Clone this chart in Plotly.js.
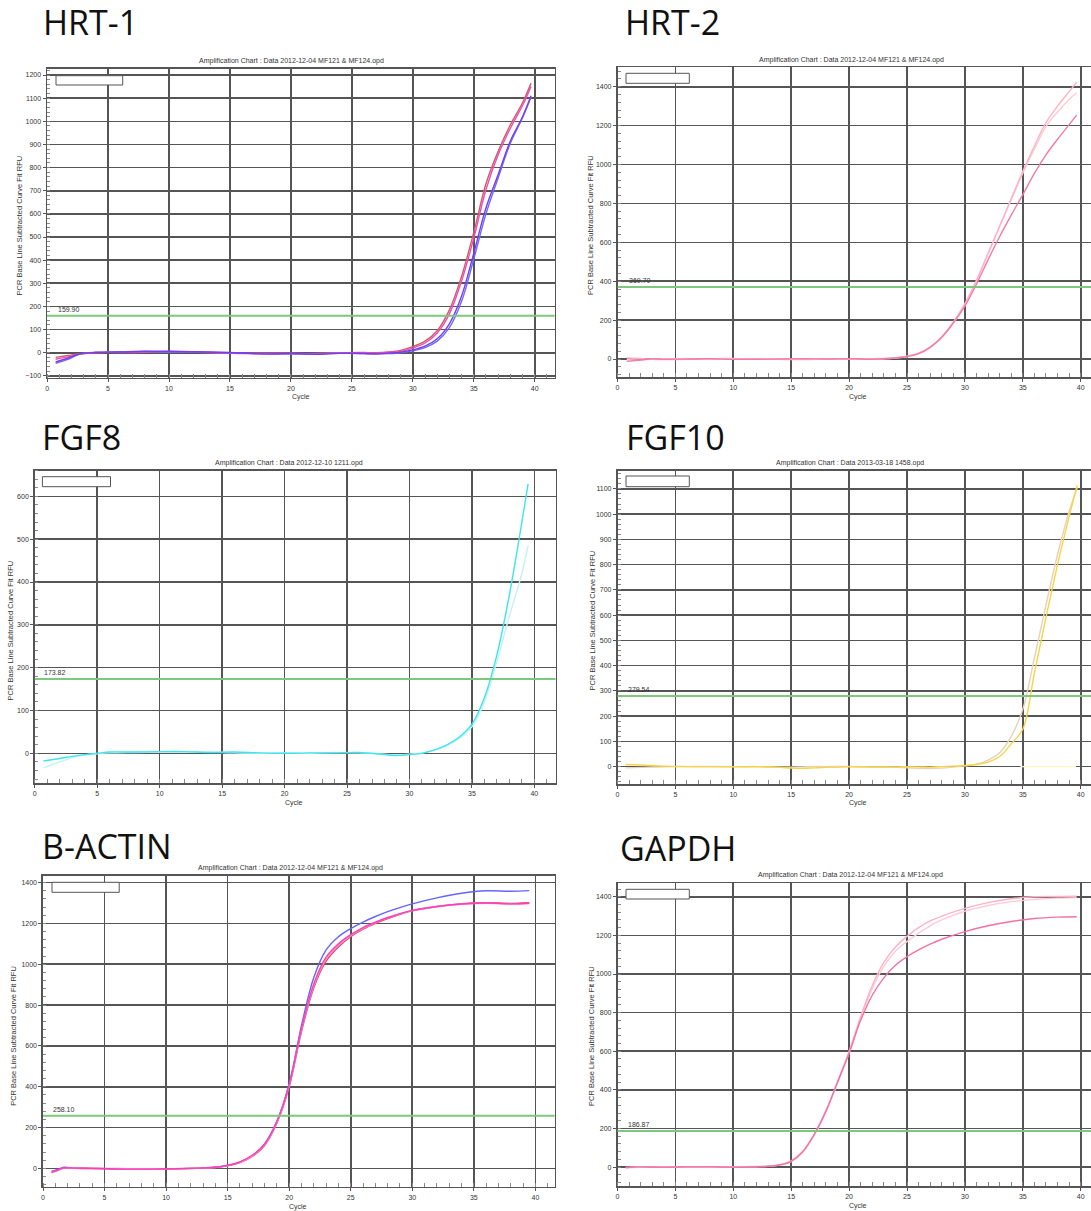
<!DOCTYPE html>
<html>
<head>
<meta charset="utf-8">
<script src="https://cdn.plot.ly/plotly-3.0.1.min.js"></script>
<style>
html,body{margin:0;padding:0;background:#fff;overflow:hidden;}
#chart{width:1110px;height:1211px;}
</style>
</head>
<body>
<div id="chart"></div>
<script>
// ---------------- DATA ----------------
const panelLabels = ["HRT-1", "HRT-2", "FGF8", "FGF10", "B-ACTIN", "GAPDH"];
const chartTitles = [
  "Amplification Chart : Data 2012-12-04 MF121 & MF124.opd",
  "Amplification Chart : Data 2012-12-04 MF121 & MF124.opd",
  "Amplification Chart : Data 2012-12-10 1211.opd",
  "Amplification Chart : Data 2013-03-18 1458.opd",
  "Amplification Chart : Data 2012-12-04 MF121 & MF124.opd",
  "Amplification Chart : Data 2012-12-04 MF121 & MF124.opd"
];
const thresholds = [159.90, 369.70, 173.82, 279.54, 258.10, 186.87];
const yTitle = "PCR Base Line Subtracted Curve Fit RFU";
const xTitle = "Cycle";
const cycleTicks = [0, 5, 10, 15, 20, 25, 30, 35, 40];

// HRT-1
const hrt1Cycles = [0.7,1.7,2.7,4,6,8,10,12,14,16,18,20,22,24,26,27,28,29,30,31,32,33,34,35,36,37,38,39,39.7];
const hrt1Red    = [-20,-12,-4,0,2,3,4,2,-1,-3,-2,-4,-3,0,1,0,3,10,26,50,95,185,330,520,730,870,985,1080,1165];
const hrt1Magenta= [-28,-18,-6,1,1,2,5,3,0,-4,-3,-2,-5,-1,0,-2,1,6,20,42,85,168,310,495,705,855,970,1068,1150];
const hrt1Blue   = [-46,-29,-6,2,4,5,3,3,1,-2,-5,-6,-6,-2,-5,-6,-4,0,8,22,50,108,222,405,600,755,905,1015,1105];
const hrt1Purple = [-40,-24,-5,1,3,6,6,4,2,-1,-6,-3,-7,-3,-3,-5,-2,2,12,28,60,125,245,430,625,770,915,1020,1110];

// HRT-2
const hrt2Cycles = [0.8,2,3,4,6,8,10,12,14,16,18,20,22,23,24,25,26,27,28,29,30,31,32,33,34,35,36,37,38,39,39.65];
const hrt2Light  = [5,3,-2,-3,-2,2,3,0,-2,-3,-1,0,2,3,6,14,30,62,115,190,285,405,545,685,825,965,1095,1215,1300,1375,1423];
const hrt2Pale   = [-4,-6,0,1,2,-2,0,2,1,0,2,-2,0,1,5,12,27,58,110,185,280,400,540,680,818,955,1080,1195,1270,1335,1369];
const hrt2Deep   = [-12,-5,1,-1,0,1,-2,-1,0,1,0,1,-1,2,5,13,28,60,112,185,272,385,510,630,740,845,955,1050,1130,1205,1254];

// FGF8
const fgf8Cycles = [0.7,2,3,4,5,6,8,10,12,14,16,18,20,22,24,26,28,29,30,31,32,33,34,35,36,37,38,39,39.5];
const fgf8Bright = [-18,-12,-7,-3,0,3,3,4,4,2,3,1,0,1,1,2,-3,-5,-3,0,8,20,38,68,130,230,370,540,629];
const fgf8Pale   = [-34,-20,-10,-4,-1,1,2,3,3,3,1,0,1,0,2,1,-2,-4,-2,1,7,18,35,62,120,215,320,420,486];

// FGF10
const fgf10Cycles = [0.7,2,4,6,8,10,12,14,15,16,17,18,20,22,24,26,27,28,29,30,31,32,33,34,35,36,37,38,39,39.7];
const fgf10Yellow = [8,6,2,0,-1,-1,0,-3,-6,-7,-5,-3,-1,-2,-1,-1,-2,0,2,4,8,18,40,90,148,370,590,800,990,1115];
const fgf10Tan    = [-5,-3,-1,0,1,0,-1,-2,-2,-1,0,0,1,-1,-3,-7,-8,-6,-2,3,10,26,55,120,227,430,640,840,1010,1105];
const fgf10NtcCycles = [34.8,36,38,39.6];
const fgf10Ntc       = [0,0,0,0];

// B-ACTIN
const actinCycles = [0.7,1.2,1.7,2.5,4,6,8,10,12,13,14,15,16,17,18,19,20,21,22,23,24,25,26,27,28,29,30,32,34,36,38,39.5];
const actinBlue    = [-15,-5,5,1,0,-2,-3,-2,0,2,5,14,30,62,120,232,415,700,935,1070,1135,1175,1207,1234,1258,1278,1296,1325,1348,1360,1358,1361];
const actinRed     = [-20,-10,2,0,-1,-2,-2,-3,-1,1,4,13,28,58,112,222,400,670,885,1015,1085,1135,1172,1200,1224,1245,1262,1283,1297,1302,1298,1302];
const actinMagenta = [-18,-8,3,1,0,-3,-4,-2,0,2,5,15,32,64,118,228,410,685,905,1035,1100,1145,1180,1206,1229,1248,1264,1283,1295,1300,1296,1299];
const actinPink    = [-22,-9,1,0,-1,-1,-2,-2,0,1,4,14,30,60,115,225,405,678,895,1025,1092,1140,1176,1203,1227,1247,1263,1282,1294,1299,1295,1298];

// GAPDH
const gapdhCycles = [0.7,2,4,6,8,10,12,13,14,15,16,17,18,19,20,21,22,23,24,25,26,27,28,30,32,34,36,38,39.65];
const gapdhLight  = [-3,2,1,-1,0,2,3,5,12,32,82,172,292,442,600,780,940,1060,1140,1195,1240,1275,1300,1340,1370,1390,1400,1402,1403];
const gapdhPale   = [-6,0,2,0,-1,1,2,4,10,28,76,165,285,435,592,770,925,1040,1118,1168,1212,1250,1280,1325,1355,1375,1386,1393,1396];
const gapdhDeep   = [-2,1,0,1,1,0,2,4,11,30,80,170,290,440,590,760,890,980,1045,1090,1125,1155,1180,1220,1250,1272,1288,1295,1297];

// ---------------- LAYOUT GEOMETRY (pixels) ----------------
const W = 1110, H = 1211;
const boxes = [ // left, right, top, bottom (px), x range, y range, y dtick
  {l:47.1, r:554.6, t:69,    b:377.7, xr:[0,41.63], yr:[-108,1226], dt:100},
  {l:617.5,r:1100.4,t:67.3,  b:377.3, xr:[0,41.7],  yr:[-94,1500],  dt:200},
  {l:34.8, r:555.6, t:470.7, b:783.3, xr:[0,41.7],  yr:[-70,660],   dt:100},
  {l:617.5,r:1100.4,t:470.7, b:784,   xr:[0,41.7],  yr:[-69,1172],  dt:100},
  {l:43,   r:554.6, t:875.7, b:1186.7,xr:[0,41.56], yr:[-90,1434],  dt:200},
  {l:617.5,r:1100.4,t:883.3, b:1186,  xr:[0,41.7],  yr:[-98,1470],  dt:200}
];
const labelPos  = [[43,22],[625,22],[42,437],[626,437],[42,846],[620,848]];
const titlePos  = [[291.5,61],[851,60],[288.6,462.7],[850.5,462.7],[290.7,867.5],[850.8,875]];
const yTitlePos = [[19.5,226],[590,225],[9.5,631],[591.5,621],[12.8,1036],[591,1036]];
const xTitlePos = [[300.5,397.3],[858.3,396.7],[294,803.3],[858.3,803.3],[298,1206.7],[858.3,1206]];
const thrLabelX = [55.6,626.7,42.4,626,51,626];
const legendBox = [[56,122.7,75.7,85],[626,689.3,73.3,83.3],[42.4,110.5,476.7,486.7],[626,689.3,476,486.7],[52,119.2,882.3,892.3],[626,689.3,889.3,899]];

const px = v => v / W;
const py = v => 1 - v / H;

const FONT = "Liberation Sans, Arial, sans-serif";
const GRID = "#555555";

// ---------------- TRACES ----------------
const seriesDefs = [
  [0, hrt1Cycles, hrt1Red, "#cf5f5a"],
  [0, hrt1Cycles, hrt1Magenta, "#ee48c4"],
  [0, hrt1Cycles, hrt1Blue, "#6b6bff"],
  [0, hrt1Cycles, hrt1Purple, "#7a3ce8"],
  [1, hrt2Cycles, hrt2Pale, "#ffcad8"],
  [1, hrt2Cycles, hrt2Light, "#ffb2c6"],
  [1, hrt2Cycles, hrt2Deep, "#f47aa8"],
  [2, fgf8Cycles, fgf8Pale, "#c2f2f2"],
  [2, fgf8Cycles, fgf8Bright, "#3ee4ee"],
  [3, fgf10NtcCycles, fgf10Ntc, "#fff4c4"],
  [3, fgf10Cycles, fgf10Tan, "#e6d2ba"],
  [3, fgf10Cycles, fgf10Yellow, "#f8d444"],
  [4, actinCycles, actinBlue, "#6464ff"],
  [4, actinCycles, actinRed, "#cf5050"],
  [4, actinCycles, actinPink, "#ff8ccc"],
  [4, actinCycles, actinMagenta, "#ff3cc0"],
  [5, gapdhCycles, gapdhPale, "#ffcad8"],
  [5, gapdhCycles, gapdhLight, "#ffb2c6"],
  [5, gapdhCycles, gapdhDeep, "#f272a8"]
];

const traces = seriesDefs.map(([p, xs, ys, col]) => ({
  type: "scatter", mode: "lines", x: xs, y: ys,
  xaxis: p === 0 ? "x" : "x" + (p + 1),
  yaxis: p === 0 ? "y" : "y" + (p + 1),
  line: {color: col, width: 1.4, shape: "spline", smoothing: 1},
  hoverinfo: "skip", showlegend: false
}));

// ---------------- LAYOUT ----------------
const layout = {
  width: W, height: H,
  margin: {l: 0, r: 0, t: 0, b: 0},
  paper_bgcolor: "#ffffff", plot_bgcolor: "#ffffff",
  showlegend: false,
  annotations: [], shapes: []
};

const tickFont = {family: FONT, size: 7, color: "#333"};

boxes.forEach((b, i) => {
  const n = i === 0 ? "" : String(i + 1);
  layout["xaxis" + n] = {
    domain: [px(b.l), px(b.r)], range: b.xr, anchor: "y" + n,
    tickvals: cycleTicks, ticks: "outside", ticklen: 3, tickcolor: GRID,
    showgrid: true, gridcolor: GRID, gridwidth: 1.6,
    showline: true, mirror: true, linecolor: GRID, linewidth: 1.6,
    zeroline: false, tickfont: tickFont, fixedrange: true,
    minor: {dtick: 1, tick0: 0, ticks: "inside", ticklen: 4, tickcolor: "#888", showgrid: false}
  };
  layout["yaxis" + n] = {
    domain: [py(b.b), py(b.t)], range: b.yr, anchor: "x" + n,
    dtick: b.dt, tick0: 0, ticks: "outside", ticklen: 3, tickcolor: GRID,
    showgrid: true, gridcolor: GRID, gridwidth: 1.6,
    showline: true, mirror: true, linecolor: GRID, linewidth: 1.6,
    zeroline: false, tickfont: tickFont, fixedrange: true,
    minor: {dtick: b.dt / 5, tick0: 0, ticks: "inside", ticklen: 3, tickcolor: "#888", showgrid: false}
  };

  // big panel label
  layout.annotations.push({
    text: panelLabels[i], xref: "paper", yref: "paper",
    x: px(labelPos[i][0] - 2), y: py(labelPos[i][1]), xanchor: "left", yanchor: "middle",
    showarrow: false, font: {family: "Open Sans, sans-serif", size: 34, color: "#111"}
  });
  // chart title
  layout.annotations.push({
    text: chartTitles[i], xref: "paper", yref: "paper",
    x: px(titlePos[i][0]), y: py(titlePos[i][1]), xanchor: "center", yanchor: "middle",
    showarrow: false, font: {family: FONT, size: 7, color: "#333"}
  });
  // y axis title
  layout.annotations.push({
    text: yTitle, xref: "paper", yref: "paper", textangle: -90,
    x: px(yTitlePos[i][0]), y: py(yTitlePos[i][1]), xanchor: "center", yanchor: "middle",
    showarrow: false, font: {family: FONT, size: 7.5, color: "#333"}
  });
  // x axis title
  layout.annotations.push({
    text: xTitle, xref: "paper", yref: "paper",
    x: px(xTitlePos[i][0]), y: py(xTitlePos[i][1]), xanchor: "center", yanchor: "middle",
    showarrow: false, font: {family: FONT, size: 7, color: "#333"}
  });
  // threshold line
  layout.shapes.push({
    type: "line", xref: "x" + n + " domain", yref: "y" + n,
    x0: 0, x1: 1, y0: thresholds[i], y1: thresholds[i],
    line: {color: "#7cc87c", width: 2}
  });
  layout.annotations.push({
    text: thresholds[i].toFixed(2), xref: "paper", yref: "y" + n,
    x: px(thrLabelX[i]), y: thresholds[i], xanchor: "left", yanchor: "bottom", yshift: 1,
    showarrow: false, font: {family: FONT, size: 7, color: "#333"}
  });
  // empty legend box
  const lb = legendBox[i];
  layout.shapes.push({
    type: "rect", xref: "paper", yref: "paper",
    x0: px(lb[0]), x1: px(lb[1]), y0: py(lb[3]), y1: py(lb[2]),
    line: {color: "#555", width: 1}, fillcolor: "#ffffff"
  });
});

Plotly.newPlot("chart", traces, layout, {displayModeBar: false, staticPlot: true});
</script>
</body>
</html>
